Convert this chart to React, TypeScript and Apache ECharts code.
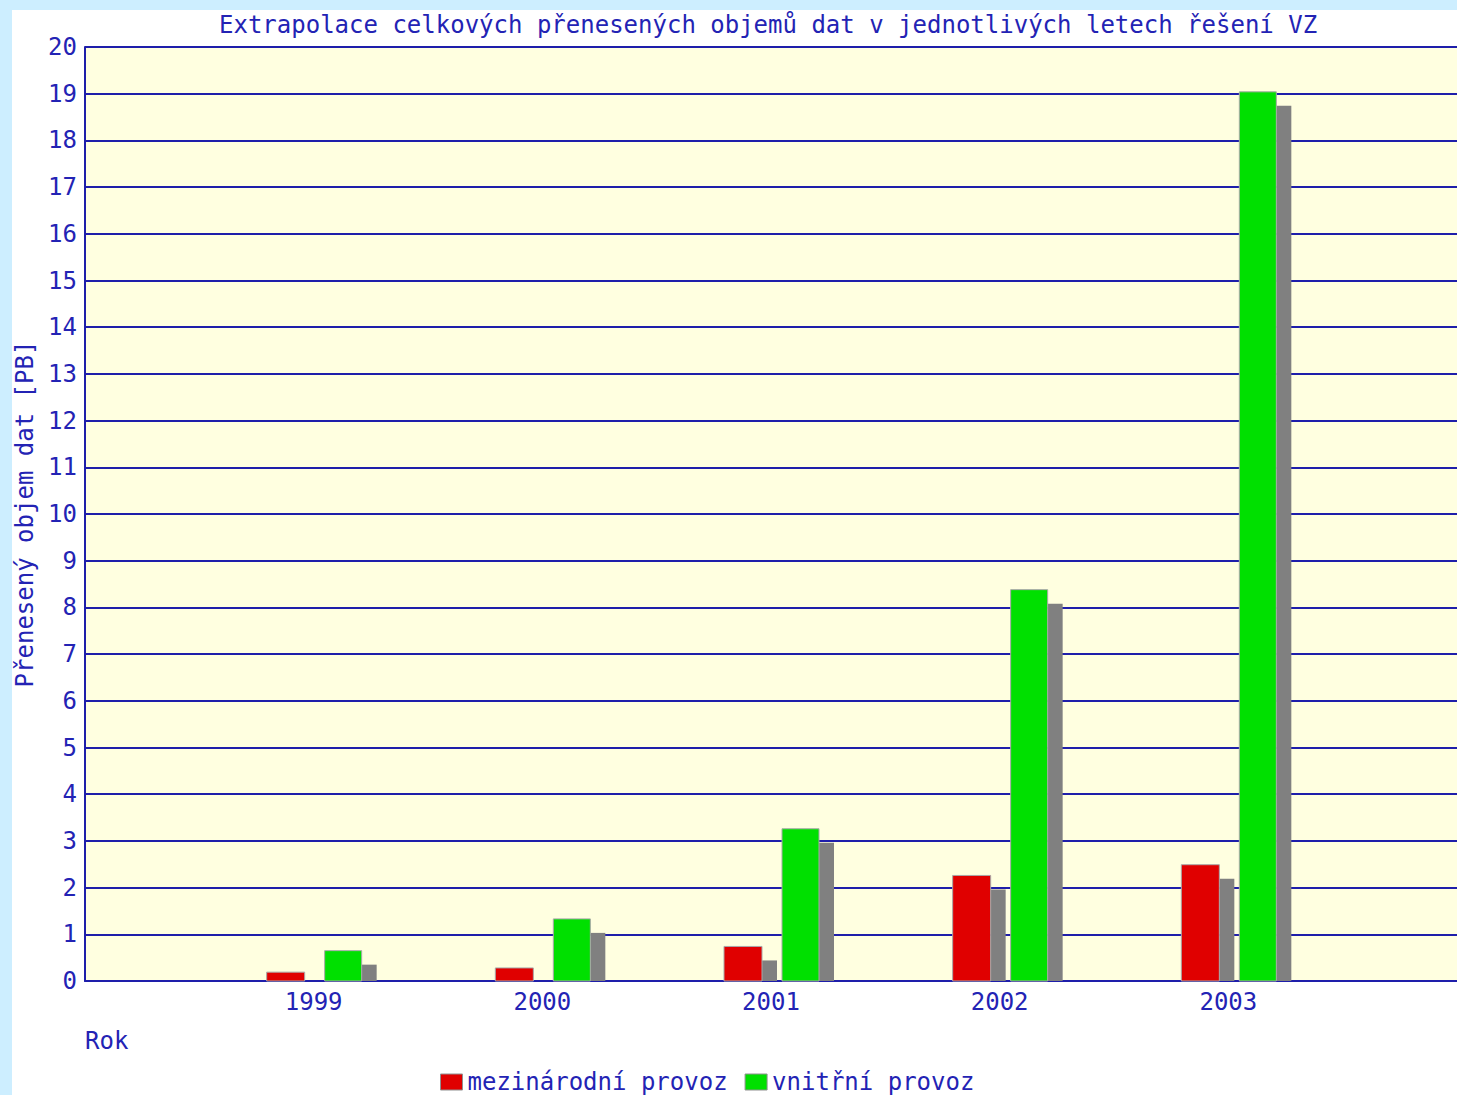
import React, { useEffect, useRef } from "react";
import * as echarts from "echarts";

const years = ["", "1999", "2000", "2001", "2002", "2003", ""];
const mezinarodni = [null, 0.19, 0.28, 0.74, 2.26, 2.49, null];
const vnitrni = [null, 0.65, 1.33, 3.26, 8.38, 19.04, null];
const yTicks = { min: 0, max: 20, interval: 1 };

const BLUE = "#2323b4";
const LINE = "#1e1eaa";
const FONT = "'DejaVu Sans Mono', 'Liberation Mono', monospace";

function makeRender(offset: number, width: number, color: string) {
  return (params: any, api: any) => {
    const xi = api.value(0);
    const v = api.value(1);
    if (v == null || isNaN(v)) return null;
    const top = api.coord([xi, v]);
    const base = api.coord([xi, 0]);
    const x = top[0] + offset;
    const y = top[1];
    const h = base[1] - y;
    const children: any[] = [];
    const sTop = y + 14;
    if (sTop < base[1]) {
      children.push({
        type: "rect",
        shape: { x: x + width, y: sTop, width: 15, height: base[1] - sTop },
        style: { fill: "#808080" },
      });
    }
    children.push({
      type: "rect",
      shape: { x: x, y: y, width: width, height: h },
      style: { fill: color, stroke: "#a8a8a8", lineWidth: 1 },
    });
    return { type: "group", children };
  };
}

export default function App() {
  const ref = useRef<HTMLDivElement>(null);
  useEffect(() => {
    const chart = echarts.init(ref.current!, null, { renderer: "svg" });
    chart.setOption({
      animation: false,
      backgroundColor: "#cdeeff",
      textStyle: { fontFamily: FONT },
      graphic: [
        {
          type: "rect",
          z: -10,
          silent: true,
          shape: { x: 12, y: 10, width: 1457, height: 1095 },
          style: { fill: "#ffffff" },
        },
        {
          type: "text",
          left: 85,
          top: 1029,
          style: { text: "Rok", fill: BLUE, font: `24px ${FONT}` },
        },
      ],
      title: {
        text: "Extrapolace celkových přenesených objemů dat v jednotlivých letech řešení VZ",
        left: 219,
        top: 13,
        padding: 0,
        textStyle: { color: BLUE, fontSize: 24, fontWeight: "normal", fontFamily: FONT },
      },
      legend: {
        left: 440,
        top: 1070,
        padding: 0,
        icon: "rect",
        itemWidth: 22,
        itemHeight: 16,
        itemGap: 17,
        data: [
          { name: "mezinárodní provoz", itemStyle: { color: "#e00000", borderColor: "#909090", borderWidth: 1 } },
          { name: "vnitřní provoz", itemStyle: { color: "#00e000", borderColor: "#909090", borderWidth: 1 } },
        ],
        textStyle: { color: BLUE, fontSize: 24, lineHeight: 20, fontFamily: FONT },
      },
      grid: {
        left: 85,
        top: 47,
        right: 0,
        bottom: 114,
        show: true,
        backgroundColor: "#ffffe0",
        borderWidth: 0,
        containLabel: false,
        outerBoundsMode: "none",
      },
      xAxis: {
        type: "category",
        data: years,
        boundaryGap: false,
        axisLine: { lineStyle: { color: LINE, width: 2 } },
        axisTick: { show: false },
        axisLabel: { color: BLUE, fontSize: 24, fontFamily: FONT, margin: 9 },
        splitLine: { show: false },
      },
      yAxis: {
        type: "value",
        min: yTicks.min,
        max: yTicks.max,
        interval: yTicks.interval,
        name: "Přenesený objem dat [PB]",
        nameLocation: "middle",
        nameGap: 46,
        nameTextStyle: { color: BLUE, fontSize: 24, fontFamily: FONT },
        axisLine: { show: true, lineStyle: { color: LINE, width: 2 } },
        axisTick: { show: false },
        axisLabel: { color: BLUE, fontSize: 24, fontFamily: FONT, margin: 8 },
        splitLine: { show: true, lineStyle: { color: LINE, width: 2 } },
      },
      series: [
        {
          name: "mezinárodní provoz",
          type: "custom",
          itemStyle: { color: "#e00000" },
          renderItem: makeRender(-47, 38, "#e00000"),
          encode: { x: 0, y: 1 },
          data: mezinarodni.map((v, i) => [i, v == null ? NaN : v]),
          clip: false,
        },
        {
          name: "vnitřní provoz",
          type: "custom",
          itemStyle: { color: "#00e000" },
          renderItem: makeRender(11, 37, "#00e000"),
          encode: { x: 0, y: 1 },
          data: vnitrni.map((v, i) => [i, v == null ? NaN : v]),
          clip: false,
        },
      ],
    });
    return () => chart.dispose();
  }, []);
  return (
    <div
      ref={ref}
      style={{ position: "fixed", left: 0, top: 0, width: 1457, height: 1095 }}
    />
  );
}
